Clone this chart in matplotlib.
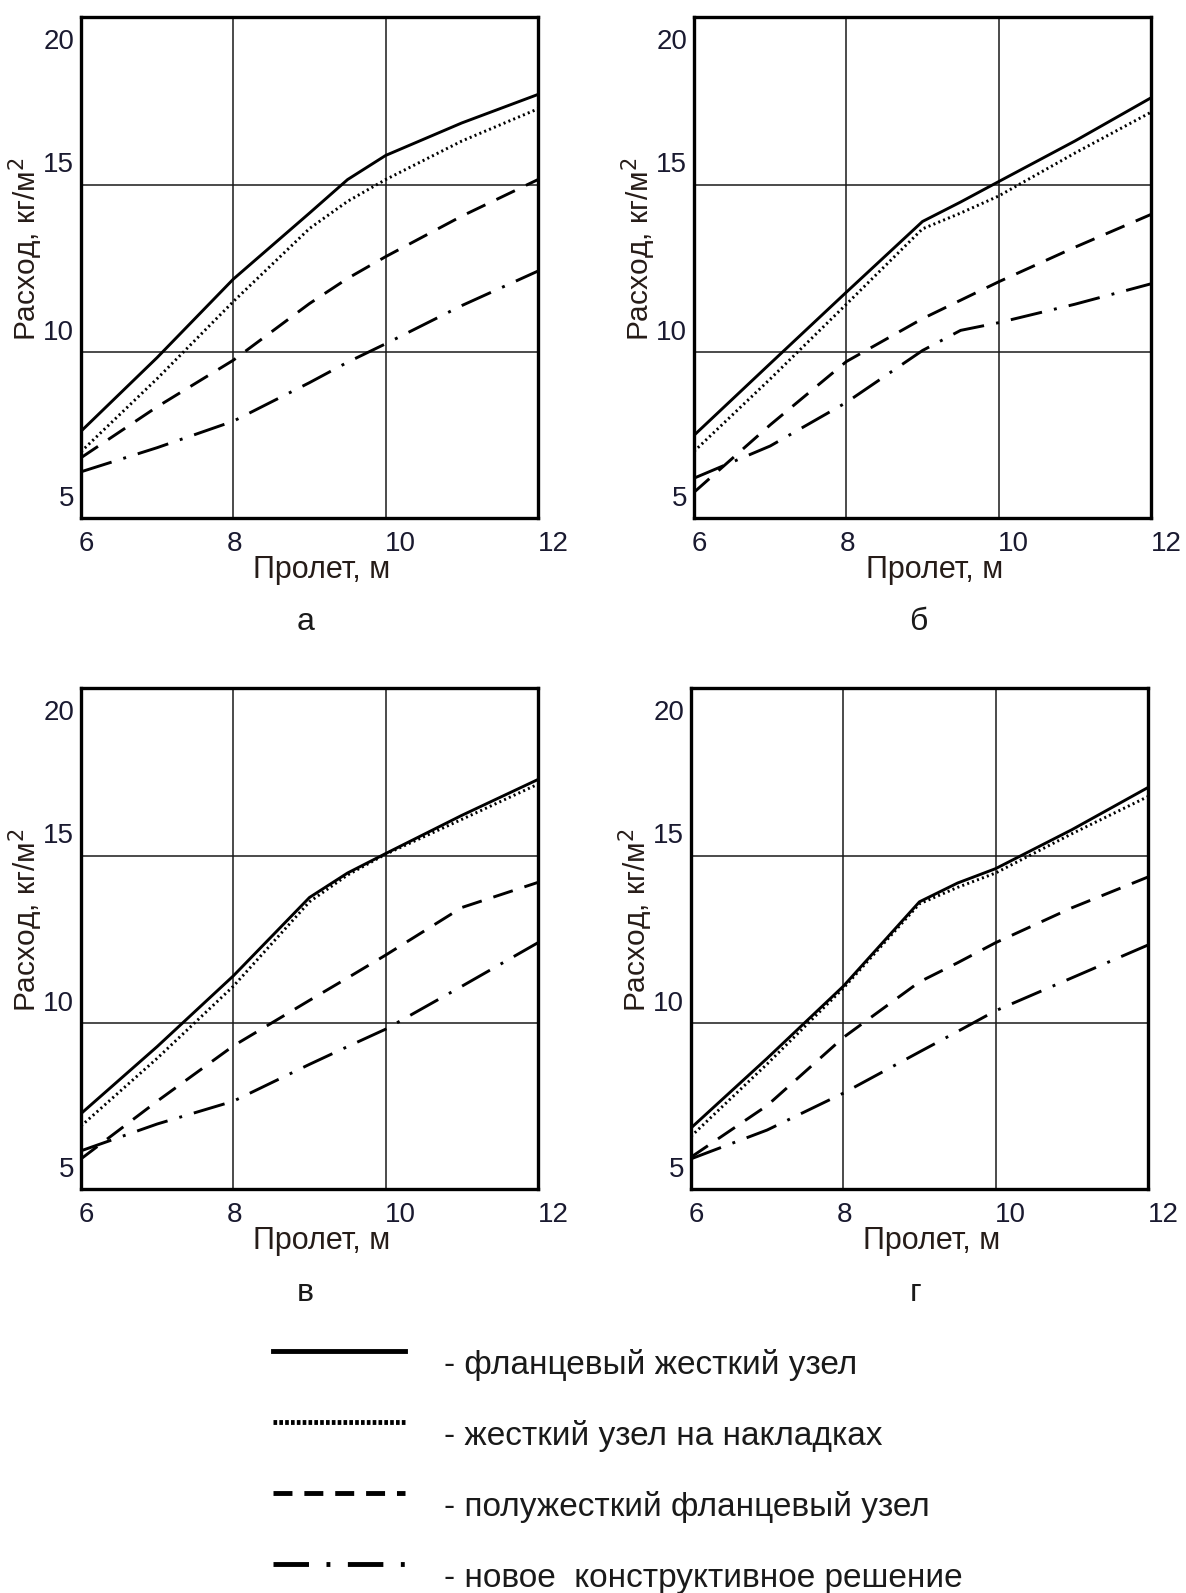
# -*- coding: utf-8 -*-
"""Steel consumption vs span for four joint types, panels а-г."""
import matplotlib as mpl
mpl.use("Agg")
import matplotlib.pyplot as plt
from matplotlib.lines import Line2D

mpl.rcParams.update({
    "font.family": ["Liberation Sans", "DejaVu Sans"],
    "font.size": 20,
})

span = [6, 7, 8, 9, 9.5, 10, 11, 12]
panel_names = ["а", "б", "в", "г"]

# one list per panel (а, б, в, г)
flange_rigid = [
    [7.64, 9.84, 12.18, 14.15, 15.15, 15.87, 16.84, 17.69],
    [7.52, 9.66, 11.79, 13.90, 14.48, 15.09, 16.30, 17.59],
    [7.30, 9.30, 11.41, 13.75, 14.48, 15.06, 16.20, 17.27],
    [6.87, 8.95, 11.10, 13.62, 14.18, 14.61, 15.77, 17.03],
]
lap_rigid = [
    [7.03, 9.21, 11.51, 13.69, 14.50, 15.15, 16.30, 17.26],
    [7.04, 9.20, 11.43, 13.68, 14.15, 14.66, 15.94, 17.16],
    [6.93, 8.95, 11.10, 13.62, 14.42, 15.04, 16.08, 17.13],
    [6.62, 8.78, 11.04, 13.56, 14.05, 14.48, 15.65, 16.76],
]
semi_rigid = [
    [6.85, 8.37, 9.76, 11.45, 12.20, 12.85, 14.06, 15.15],
    [5.82, 7.83, 9.72, 11.00, 11.55, 12.10, 13.13, 14.11],
    [5.95, 7.67, 9.32, 10.68, 11.35, 12.03, 13.45, 14.20],
    [6.00, 7.54, 9.57, 11.23, 11.80, 12.40, 13.44, 14.36],
]
new_solution = [
    [6.43, 7.15, 7.94, 9.09, 9.70, 10.25, 11.39, 12.42],
    [6.24, 7.20, 8.50, 10.05, 10.65, 10.88, 11.43, 12.04],
    [6.19, 6.99, 7.67, 8.77, 9.30, 9.82, 11.10, 12.40],
    [5.95, 6.81, 7.91, 9.14, 9.75, 10.37, 11.35, 12.33],
]
legend_labels = [
    "- фланцевый жесткий узел",
    "- жесткий узел на накладках",
    "- полужесткий фланцевый узел",
    "- новое  конструктивное решение",
]
x_ticks = [6, 8, 10, 12]
y_ticks = [5, 10, 15, 20]

line_styles = [
    dict(ls="-", lw=2.1),
    dict(ls=(0, (0.7, 1.1)), lw=2.1),
    dict(ls=(0, (7.0, 4.2)), lw=2.1),
    dict(ls=(0, (11, 4.2, 1, 4.2)), lw=2.1),
]
legend_styles = [
    dict(ls="-", lw=3.5),
    dict(ls=(0, (0.75, 0.45)), lw=3.5),
    dict(ls=(0, (3.9, 2.45)), lw=3.5),
    dict(ls=(0, (7.3, 3.6, 0.8, 3.6)), lw=3.5),
]
tick_color = "#1a1a30"
label_color = "#261c18"

fig = plt.figure(figsize=(11.86, 15.93), dpi=100)
positions = [
    [0.0683, 0.6748, 0.3853, 0.3145],
    [0.5852, 0.6748, 0.3853, 0.3145],
    [0.0683, 0.2536, 0.3853, 0.3145],
    [0.5826, 0.2536, 0.3853, 0.3145],
]

# tick label offsets in points, placed the way the Mathcad original does
x_label_dx = {6: 3.6, 8: 1.0, 10: 10.5, 12: 11.0}
y_label_dy = {5: 15, 10: 14, 15: 14, 20: -18}

for i, pos in enumerate(positions):
    ax = fig.add_axes(pos)
    series = [flange_rigid[i], lap_rigid[i], semi_rigid[i], new_solution[i]]
    for ys, st in zip(series, line_styles):
        ax.plot(span, ys, color="black", solid_capstyle="butt", **st)

    ax.set_xlim(6, 12)
    ax.set_ylim(5.05, 20)
    ax.set_xticks([8, 10])
    ax.set_yticks([10, 15])
    ax.tick_params(length=0, labelbottom=False, labelleft=False)
    ax.grid(True, color="#1a1a1a", lw=1.1)
    for sp in ax.spines.values():
        sp.set_linewidth(2.4)

    for v in x_ticks:
        ax.annotate(str(v), xy=(v, 0), xycoords=("data", "axes fraction"),
                    xytext=(x_label_dx[v], -19), textcoords="offset points",
                    ha="center", va="center", fontsize=20, color=tick_color)
    for v in y_ticks:
        ax.annotate(str(v), xy=(0, v), xycoords=("axes fraction", "data"),
                    xytext=(-5, y_label_dy[v]), textcoords="offset points",
                    ha="right", va="center", fontsize=20, color=tick_color)

    ax.annotate("Пролет, м", xy=(0.5, 0), xycoords="axes fraction",
                xytext=(9, -37.5), textcoords="offset points",
                ha="center", va="center", fontsize=22, color=label_color)
    ax.annotate("Расход, кг/м$^2$", xy=(0, 0.5), xycoords="axes fraction",
                xytext=(-40, 13), textcoords="offset points", rotation=90,
                ha="center", va="center", fontsize=21.5, color=label_color)
    ax.annotate(panel_names[i], xy=(0.5, 0), xycoords="axes fraction",
                xytext=(-3, -75), textcoords="offset points",
                ha="center", va="center", fontsize=23, color="#1a1a1a")

handles = [Line2D([0], [0], color="black", **st) for st in legend_styles]
fig.legend(handles, legend_labels, loc="upper left",
           bbox_to_anchor=(0.2193, 0.1745), frameon=False,
           prop={"size": 24}, labelcolor="#1a1a1a",
           handlelength=3.96, handleheight=2.9, handletextpad=1.17,
           labelspacing=0.0, borderaxespad=0)

fig.savefig("out.png", dpi=100)
plt.close(fig)
